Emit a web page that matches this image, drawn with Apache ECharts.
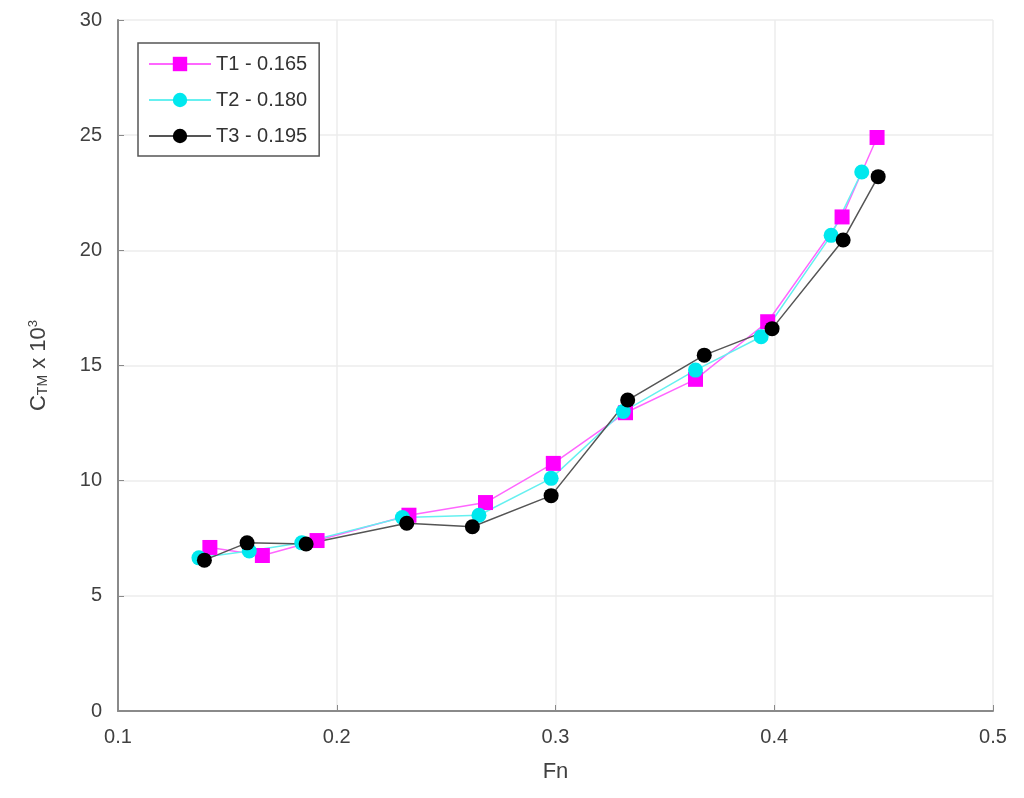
<!DOCTYPE html>
<html>
<head>
<meta charset="utf-8">
<script src="https://cdn.jsdelivr.net/npm/echarts@6/dist/echarts.min.js"></script>
<style>
  html, body { margin: 0; padding: 0; background: #fff; }
  #chart { width: 1024px; height: 798px; }
</style>
</head>
<body>
<div id="chart"></div>
<script>
// values
const t1Fn = [0.142, 0.166, 0.191, 0.233, 0.268, 0.299, 0.332, 0.364, 0.397, 0.431, 0.447]
const t1Ctm = [7.1, 6.75, 7.4, 8.5, 9.05, 10.75, 12.95, 14.4, 16.9, 21.45, 24.9]
const t2Fn = [0.137, 0.160, 0.184, 0.230, 0.265, 0.298, 0.331, 0.364, 0.394, 0.426, 0.440]
const t2Ctm = [6.65, 6.95, 7.3, 8.4, 8.5, 10.1, 13.0, 14.8, 16.25, 20.65, 23.4]
const t3Fn = [0.1395, 0.159, 0.186, 0.232, 0.262, 0.298, 0.333, 0.368, 0.399, 0.4315, 0.4475]
const t3Ctm = [6.55, 7.3, 7.25, 8.15, 8.0, 9.35, 13.5, 15.45, 16.6, 20.45, 23.2]
const seriesNames = ['T1 - 0.165', 'T2 - 0.180', 'T3 - 0.195']

const pairs = (xs, ys) => xs.map((x, i) => [x, ys[i]])

const myChart = echarts.init(document.getElementById('chart'))
const txt = '#404040'
const axisCol = '#8a8a8a'
const gridCol = '#ececec'

myChart.setOption({
  animation: false,
  textStyle: { fontFamily: 'Liberation Sans, Arial, sans-serif' },
  grid: { left: 118, right: 31, top: 20, bottom: 87 },
  legend: {
    left: 138, top: 43, orient: 'vertical',
    backgroundColor: '#fff', borderColor: '#555', borderWidth: 1.5,
    padding: [11, 12, 10, 10], itemGap: 16, itemWidth: 62, itemHeight: 18,
    textStyle: { fontSize: 20, color: '#333' },
    data: seriesNames
  },
  xAxis: {
    type: 'value', min: 0.1, max: 0.5, interval: 0.1,
    name: 'Fn', nameLocation: 'middle', nameGap: 50,
    nameTextStyle: { fontSize: 22, color: txt },
    axisLine: { onZero: false, lineStyle: { color: axisCol, width: 2 } },
    axisTick: { inside: true, length: 6, lineStyle: { color: axisCol } },
    axisLabel: { fontSize: 20, color: txt, margin: 16, formatter: v => v.toFixed(1) },
    splitLine: { lineStyle: { color: gridCol, width: 1.5 } }
  },
  yAxis: {
    type: 'value', min: 0, max: 30, interval: 5,
    name: '{b|C}{s|TM}{b| x 10}{p|3}', nameLocation: 'middle', nameGap: 68,
    nameTextStyle: {
      rich: {
        b: { fontSize: 22, color: txt },
        s: { fontSize: 14, color: txt, verticalAlign: 'bottom', padding: [9, 0, 0, 0] },
        p: { fontSize: 13, color: txt, verticalAlign: 'top', padding: [0, 0, 9, 0] }
      }
    },
    axisLine: { onZero: false, lineStyle: { color: axisCol, width: 2 } },
    axisTick: { show: true, inside: true, length: 6, lineStyle: { color: axisCol } },
    axisLabel: { fontSize: 20, color: txt, margin: 16 },
    splitLine: { lineStyle: { color: gridCol, width: 1.5 } }
  },
  series: [
    {
      name: seriesNames[0], type: 'line', data: pairs(t1Fn, t1Ctm),
      symbol: 'rect', symbolSize: 15,
      itemStyle: { color: '#ff00ff' }, lineStyle: { color: '#ff66ff', width: 1.5 }
    },
    {
      name: seriesNames[1], type: 'line', data: pairs(t2Fn, t2Ctm),
      symbol: 'circle', symbolSize: 15,
      itemStyle: { color: '#00e8ee' }, lineStyle: { color: '#66f0f0', width: 1.5 }
    },
    {
      name: seriesNames[2], type: 'line', data: pairs(t3Fn, t3Ctm),
      symbol: 'circle', symbolSize: 15,
      itemStyle: { color: '#000' }, lineStyle: { color: '#555', width: 1.5 }
    }
  ]
})
</script>
</body>
</html>
